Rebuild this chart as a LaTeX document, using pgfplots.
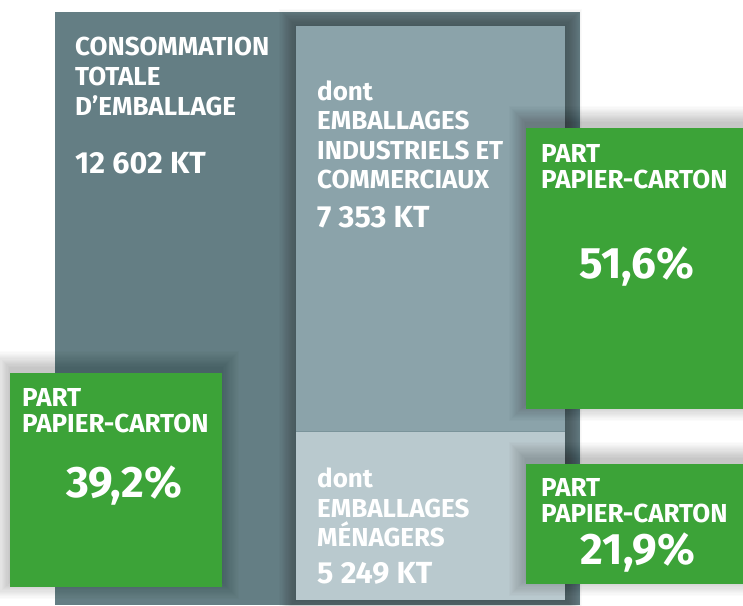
\documentclass[border=0pt]{standalone}
\usepackage{pgfplots}
\pgfplotsset{compat=1.18}
\usepackage{fontspec}
\setmainfont{Fira Sans}
\definecolor{dark}{HTML}{647E84}
\definecolor{mid}{HTML}{8BA3AA}
\definecolor{light}{HTML}{B9C9CE}
\definecolor{sep}{HTML}{7A939A}
\definecolor{grn}{HTML}{3CA338}
\newcommand{\tx}[3]{\node[anchor=base west,text=white,inner sep=0pt,font=\fontsize{#3}{#3}\selectfont\bfseries] at (axis cs:#1) {#2};}
\newcommand{\tc}[3]{\node[anchor=base,text=white,inner sep=0pt,font=\fontsize{#3}{#3}\selectfont\bfseries] at (axis cs:#1) {#2};}
% soft shadow: x1 y1 x2 y2 dy opacity
\newcommand{\shad}[6]{%
 \pgfplotsinvokeforeach{1,...,14}{%
  \pgfmathsetmacro\sxa{#1-1.2*##1}%
  \pgfmathsetmacro\sya{#2-1.2*##1+#5}%
  \pgfmathsetmacro\sxb{#3+1.2*##1}%
  \pgfmathsetmacro\syb{#4+1.2*##1+#5}%
  \addplot[fill=black, fill opacity=#6, draw=none] coordinates {(\sxa,\sya) (\sxb,\sya) (\sxb,\syb) (\sxa,\syb)} -- cycle;
 }}
\begin{document}
\begin{tikzpicture}
\begin{axis}[scale only axis, width=743pt, height=605pt,
  xmin=0, xmax=743, ymin=0, ymax=605, y dir=reverse, hide axis]
\addplot[fill=white, draw=none] coordinates {(0,0) (743,0) (743,605) (0,605)} -- cycle;
% total consumption 12 602 kt
\addplot[fill=dark, draw=none] coordinates {(55,12) (580,12) (580,605) (55,605)} -- cycle;
\shad{296}{26}{565}{600}{0}{0.02}
% industrial & commercial 7 353 kt
\addplot[fill=mid, draw=none] coordinates {(296,26) (565,26) (565,431) (296,431)} -- cycle;
% household 5 249 kt
\addplot[fill=light, draw=none] coordinates {(296,431) (565,431) (565,600) (296,600)} -- cycle;
\addplot[draw=sep, line width=1pt] coordinates {(296,431) (565,431)};
% paper-board shares
\shad{526}{128}{743}{409}{-5}{0.016}
\shad{526}{464}{743}{584}{-5}{0.016}
\shad{10}{373}{222}{587}{-5}{0.016}
\addplot[fill=grn, draw=none] coordinates {(526,128) (743,128) (743,409) (526,409)} -- cycle;
\addplot[fill=grn, draw=none] coordinates {(526,464) (743,464) (743,584) (526,584)} -- cycle;
\addplot[fill=grn, draw=none] coordinates {(10,373) (222,373) (222,587) (10,587)} -- cycle;
\tx{75,55}{CONSOMMATION}{26}
\tx{75,85}{TOTALE}{26}
\tx{75,115}{D’EMBALLAGE}{26}
\tx{75,173}{12 602 KT}{30.5}
\tx{317,100}{dont}{26}
\tx{317,129}{EMBALLAGES}{26}
\tx{317,159}{INDUSTRIELS ET}{26}
\tx{317,188}{COMMERCIAUX}{26}
\tx{317,227}{7 353 KT}{30.5}
\tx{317,487}{dont}{26}
\tx{317,517}{EMBALLAGES}{26}
\tx{317,546}{MÉNAGERS}{26}
\tx{317,583}{5 249 KT}{30.5}
\tx{541,162}{PART}{26}
\tx{541,188}{PAPIER-CARTON}{26}
\tc{637,278}{51,6\%}{44}
\tx{541,496}{PART}{26}
\tx{541,522}{PAPIER-CARTON}{26}
\tc{638,564}{21,9\%}{44}
\tx{22,406}{PART}{26}
\tx{22,432}{PAPIER-CARTON}{26}
\tc{124,497}{39,2\%}{44}
\end{axis}
\end{tikzpicture}
\end{document}
